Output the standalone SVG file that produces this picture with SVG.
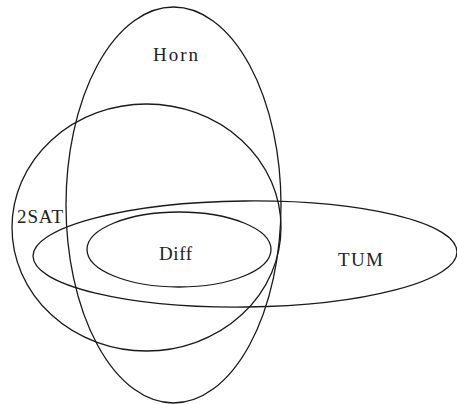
<svg xmlns="http://www.w3.org/2000/svg" width="457" height="404" viewBox="0 0 457 404">
<style>
.set{fill:none;stroke:#1a1a1a;stroke-width:1.3}
.lbl{font-family:"Liberation Serif","DejaVu Serif",serif;font-size:19px;fill:#222}
</style>
<rect width="457" height="404" fill="#fff"/>
<g id="horn"><ellipse class="set" cx="173.5" cy="205" rx="107.5" ry="198"/><text class="lbl" x="175.5" y="61" text-anchor="middle" textLength="45">Horn</text></g>
<g id="twosat"><ellipse class="set" cx="146.5" cy="227.5" rx="134.5" ry="123.5"/><text class="lbl" x="17" y="223" textLength="46">2SAT</text></g>
<g id="tum"><ellipse class="set" cx="245" cy="254" rx="212" ry="53" transform="rotate(-0.6 245 254)"/><text class="lbl" x="338" y="266" textLength="45">TUM</text></g>
<g id="diff"><ellipse class="set" cx="179" cy="249.5" rx="92" ry="37.5"/><text class="lbl" x="159" y="260" textLength="33">Diff</text></g>
</svg>
